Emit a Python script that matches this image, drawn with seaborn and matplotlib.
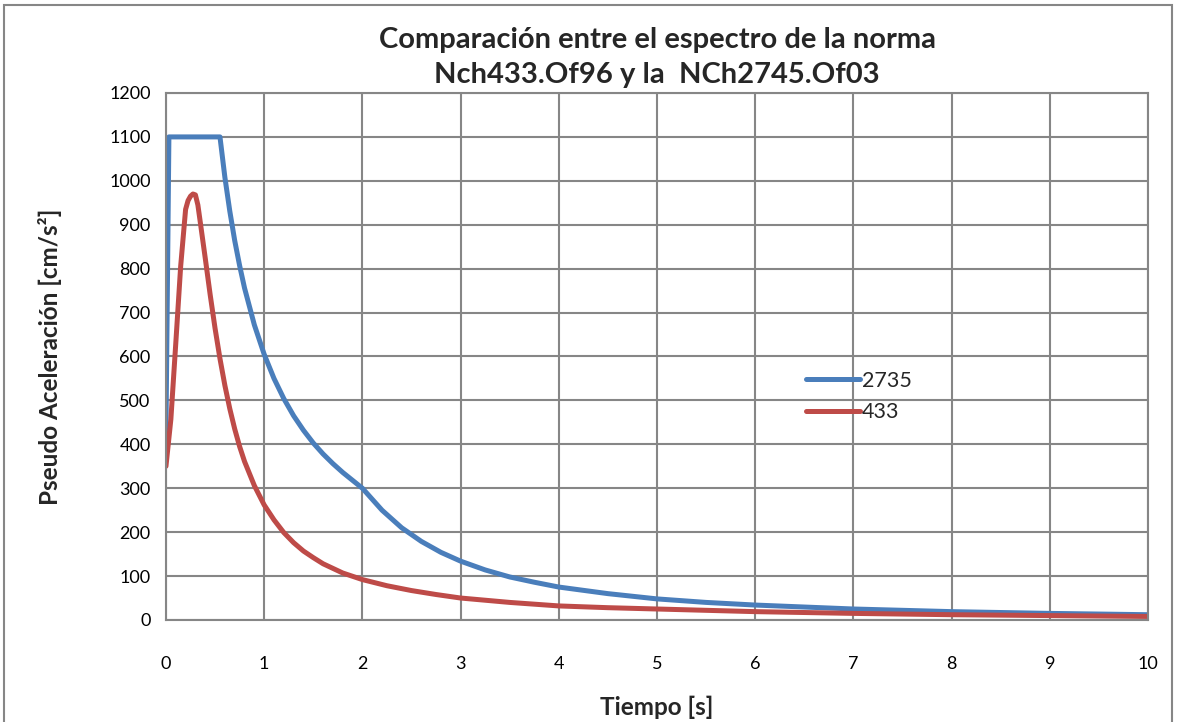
import matplotlib
matplotlib.use("Agg")
import matplotlib.pyplot as plt
import pandas as pd
import seaborn as sns

# NCh2745 spectrum (blue)
t_2735 = [0.0, 0.03, 0.55, 0.6, 0.65, 0.7, 0.75, 0.8, 0.9, 1.0, 1.1, 1.2, 1.3,
          1.4, 1.5, 1.6, 1.7, 1.8, 1.9, 2.0, 2.2, 2.4, 2.6, 2.8, 3.0, 3.25,
          3.5, 3.75, 4.0, 4.5, 5.0, 5.5, 6.0, 7.0, 8.0, 9.0, 10.0]
sa_2735 = [430, 1100, 1100, 1008, 931, 864, 807, 756, 672, 605, 550, 504, 465,
           432, 403, 378, 356, 336, 318, 300, 250, 210, 179, 154, 134, 114,
           98, 86, 75, 60, 48, 40, 34, 25, 19, 15, 12]

# NCh433 spectrum (red)
t_433 = [0.0, 0.05, 0.1, 0.15, 0.2, 0.225, 0.25, 0.275, 0.3, 0.325, 0.35, 0.4,
         0.45, 0.5, 0.55, 0.6, 0.65, 0.7, 0.75, 0.8, 0.9, 1.0, 1.1, 1.2, 1.3,
         1.4, 1.5, 1.6, 1.8, 2.0, 2.25, 2.5, 2.75, 3.0, 3.5, 4.0, 4.5, 5.0,
         6.0, 7.0, 8.0, 9.0, 10.0]
sa_433 = [350, 457, 630, 806, 935, 955, 965, 970, 968, 945, 905, 824,
          741, 664, 595, 534, 481, 435, 395, 361, 306, 262, 228, 199, 176,
          157, 142, 128, 107, 92, 78, 67, 58, 50, 40, 32, 28, 25,
          19, 15, 12, 10, 8]

df = pd.concat([
    pd.DataFrame({"T": t_2735, "Sa": sa_2735, "serie": "2735"}),
    pd.DataFrame({"T": t_433, "Sa": sa_433, "serie": "433"}),
])

sns.set_style("whitegrid")
plt.rcParams["font.family"] = ["Lato", "DejaVu Sans"]

fig = plt.figure(figsize=(11.77, 7.22), dpi=100)
ax = fig.add_axes([0.141, 0.1413, 0.8344, 0.7299])

sns.lineplot(
    data=df, x="T", y="Sa", hue="serie", ax=ax,
    palette={"2735": "#4A7EBB", "433": "#BE4B48"},
    linewidth=3.6, sort=False, estimator=None,
)

ax.set_xlim(0, 10)
ax.set_ylim(0, 1200)
ax.set_xticks(range(0, 11))
ax.set_yticks(range(0, 1201, 100))
ax.grid(True, color="#868686", linewidth=1.5)
for s in ax.spines.values():
    s.set_color("#868686")
    s.set_linewidth(1.5)
ax.tick_params(length=0, labelsize=13, colors="black")
ax.tick_params(axis="x", pad=26)
ax.tick_params(axis="y", pad=11)

ax.set_xlabel("Tiempo [s]", fontsize=17.5, fontweight="bold", labelpad=17)
ax.set_ylabel("Pseudo Aceleración [cm/s²]", fontsize=17.5, fontweight="bold", labelpad=34)
ax.set_title("Comparación entre el espectro de la norma\nNch433.Of96 y la  NCh2745.Of03",
             fontsize=21, fontweight="bold", pad=7, linespacing=1.45)

leg = ax.legend(loc="center left", bbox_to_anchor=(0.632, 0.424), frameon=False,
                fontsize=15.5, handlelength=2.5, handletextpad=0.1, labelspacing=0.55)
for line in leg.get_lines():
    line.set_linewidth(3.6)
    line.set_solid_capstyle("round")

fig.patches.append(plt.Rectangle((0.003, -0.01), 0.993, 1.003, transform=fig.transFigure,
                                 fill=False, edgecolor="#868686", linewidth=1.5))

fig.savefig("out.png", dpi=100)
